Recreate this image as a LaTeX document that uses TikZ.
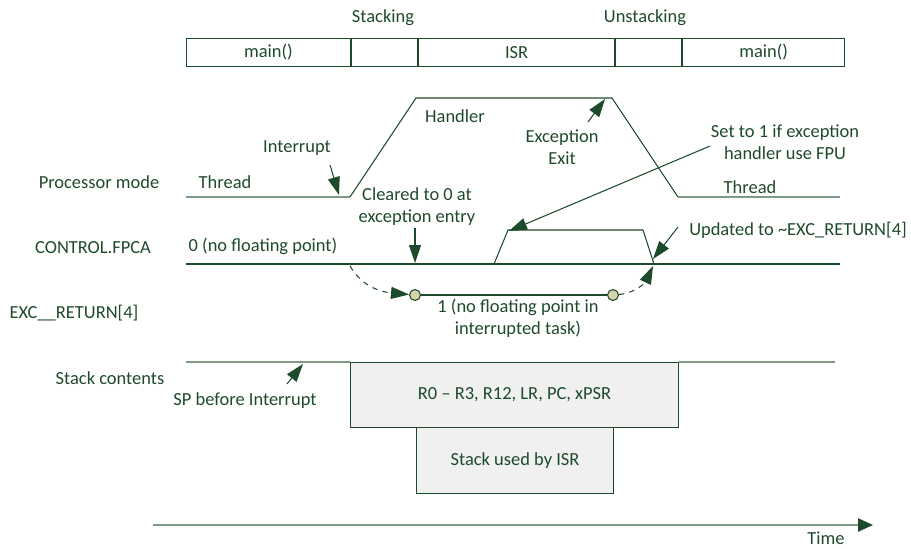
\documentclass[tikz,border=0pt]{standalone}
\usepackage{fontspec}
\setmainfont{Carlito}
\usepackage{xcolor}
\usetikzlibrary{arrows.meta,positioning,calc}
\definecolor{armgreen}{HTML}{1E4A2C}
\definecolor{armgrey}{HTML}{7E9A86}
\definecolor{armfill}{HTML}{F0F0F0}
\definecolor{armdot}{HTML}{D5D3A9}

\begin{document}
\begin{tikzpicture}[
    x=0.02cm,y=-0.02cm,
    lbl/.style  = {font=\fontsize{10.5}{12.6}\selectfont,text=armgreen,align=center,inner sep=1pt},
    cell/.style = {rectangle,draw=armgreen,line width=0.6pt,anchor=north west,inner sep=0pt,
                   minimum height=0.56cm,font=\fontsize{10.5}{12.6}\selectfont,text=armgreen},
    stk/.style  = {rectangle,draw=armgreen,fill=armfill,line width=0.6pt,anchor=north west,
                   inner sep=0pt,font=\fontsize{10.5}{12.6}\selectfont,text=armgreen},
    dot/.style  = {circle,draw=armgreen,fill=armdot,line width=0.6pt,minimum size=0.22cm,inner sep=0pt},
    wave/.style = {armgreen,line width=0.6pt},
    base/.style = {armgrey,line width=1.4pt},
    pnt/.style  = {-{Triangle[length=3.6mm,width=2.4mm]},armgreen,line width=0.6pt},
  ]
  \useasboundingbox (0,0) rectangle (911,548);

  % top bar
  \node[cell,minimum width=3.28cm] (m1)  at (186,38)        {main()};
  \node[cell,minimum width=1.32cm] (stc) at (m1.north east)  {};
  \node[cell,minimum width=3.92cm] (isr) at (stc.north east) {ISR};
  \node[cell,minimum width=1.32cm] (ust) at (isr.north east) {};
  \node[cell,minimum width=3.24cm] (m2)  at (ust.north east) {main()};
  \node[lbl] (stac) at (383,18) {Stacking};
  \node[lbl] (unst) at (645,18) {Unstacking};

  % processor mode
  \node[lbl] (pm)  at (99,182)  {Processor mode};
  \node[lbl] (th1) at (225,182) {Thread};
  \node[lbl] (hnd) at (455,116) {Handler};
  \node[lbl] (th2) at (750,187) {Thread};
  \node[lbl] (int) at (297,148) {Interrupt};
  \node[lbl] (exx) at (562,147) {Exception\\Exit};
  \coordinate (pa) at (186,197);
  \coordinate (pb) at (350,197);
  \coordinate (pc) at (416,98);
  \coordinate (pd) at (612,98);
  \coordinate (pe) at (678,197);
  \coordinate (pf) at (840,197);
  \draw[base] (pa) -- (pb);
  \draw[wave] (pb) -- (pc) -- (pd) -- (pe);
  \draw[base] (pe) -- (pf);
  \coordinate (inttail) at (330,165);
  \coordinate (inttip)  at (339,195);
  \coordinate (exxtail) at (588,122);
  \coordinate (exxtip)  at (605,99);
  \draw[pnt] (inttail) -- (inttip);
  \draw[pnt] (exxtail) -- (exxtip);

  % CONTROL.FPCA
  \node[lbl] (fpca) at (93,248)  {CONTROL.FPCA};
  \node[lbl] (zero) at (263,246) {0 (no floating point)};
  \node[lbl] (clr)  at (417,207) {Cleared to 0 at\\exception entry};
  \node[lbl] (set)  at (785,142) {Set to 1 if exception\\handler use FPU};
  \node[lbl] (upd)  at (798,230) {Updated to \textasciitilde EXC\_RETURN[4]};
  \coordinate (fa) at (186,264);
  \coordinate (fb) at (840,264);
  \coordinate (ua) at (494,264);
  \coordinate (ub) at (508,230);
  \coordinate (uc) at (643,230);
  \coordinate (ud) at (654,264);
  \draw[wave] (fa) -- (fb);
  \draw[wave] (ua) -- (ub) -- (uc) -- (ud);
  \coordinate (clrtail) at (415,228);
  \coordinate (clrtip)  at (415,263);
  \coordinate (settail) at (710,146);
  \coordinate (settip)  at (509,231);
  \coordinate (updtail) at (678,227);
  \coordinate (updtip)  at (653,259);
  \draw[pnt] (clrtail) -- (clrtip);
  \draw[pnt] (settail) -- (settip);
  \draw[pnt] (updtail) -- (updtip);

  % EXC_RETURN[4]
  \node[lbl] (exc) at (74,313)  {EXC\_\_RETURN[4]};
  \node[lbl] (one) at (518,318) {1 (no floating point in\\interrupted task)};
  \node[dot] (c1) at (415,295) {};
  \node[dot] (c2) at (613,295) {};
  \coordinate (ent) at (350,266);
  \coordinate (ret) at (653,266);
  \draw[wave] (c1) -- (c2);
  \draw[pnt,dashed] (ent) to[out=-60,in=175] (c1);
  \draw[pnt,dashed] (c2) to[out=5,in=-115] (ret);

  % stack contents
  \node[lbl] (sc) at (110,378) {Stack contents};
  \node[lbl] (sp) at (245,401) {SP before Interrupt};
  \node[stk,minimum width=6.56cm,minimum height=1.30cm] (regs) at (350,362)
       {R0 -- R3, R12, LR, PC, xPSR};
  \node[stk,minimum width=3.94cm,minimum height=1.32cm] (isrs) at (416,427)
       {Stack used by ISR};
  \coordinate (sa) at (186,362);
  \coordinate (sb) at (835,362);
  \draw[base] (sa) -- (regs.north west);
  \draw[base] (regs.north east) -- (sb);
  \coordinate (sptail) at (287,384);
  \coordinate (sptip)  at (303,364);
  \draw[pnt] (sptail) -- (sptip);

  % time axis
  \coordinate (t0) at (153,525);
  \coordinate (t1) at (873,525);
  \draw[base,-{Triangle[length=3mm,width=2.6mm,color=armgreen]}] (t0) -- (t1);
  \node[lbl] (time) at (826,538) {Time};

\end{tikzpicture}
\end{document}
